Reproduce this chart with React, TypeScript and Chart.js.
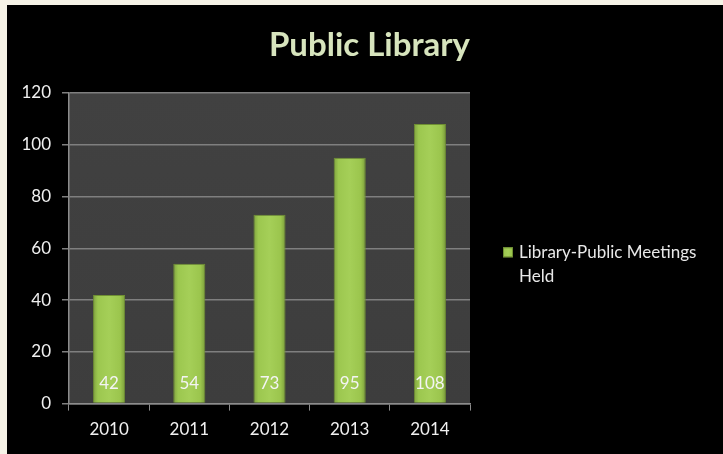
import React, { useEffect, useRef } from "react";
import { Chart, registerables } from "chart.js";

Chart.register(...registerables);

const TITLE = "Public Library";
const YEARS = ["2010", "2011", "2012", "2013", "2014"];
const MEETINGS = [42, 54, 73, 95, 108];
const SERIES_LABEL = "Library-Public Meetings Held";
const LEGEND_LINES = ["Library-Public Meetings", "Held"];
const Y_MIN = 0;
const Y_MAX = 120;
const Y_STEP = 20;

const FONT = "Lato, 'Open Sans', sans-serif";
const BAR_RATIO = 0.4;

function barGradient(ctx: CanvasRenderingContext2D, left: number, right: number) {
  if (!isFinite(left) || !isFinite(right) || right <= left) return "#9cc54f";
  const g = ctx.createLinearGradient(left, 0, right, 0);
  g.addColorStop(0, "#7fa33e");
  g.addColorStop(0.15, "#9cc74f");
  g.addColorStop(0.5, "#a5cf58");
  g.addColorStop(0.85, "#9bc54d");
  g.addColorStop(1, "#7a9c3a");
  return g;
}

const plotBgPlugin = {
  id: "plotBg",
  beforeDraw(chart: any) {
    const { ctx, chartArea } = chart;
    if (!chartArea) return;
    ctx.save();
    const g = ctx.createLinearGradient(0, chartArea.top, 0, chartArea.bottom);
    g.addColorStop(0, "#414141");
    g.addColorStop(1, "#3d3d3d");
    ctx.fillStyle = g;
    ctx.fillRect(chartArea.left, chartArea.top, chartArea.right - chartArea.left, chartArea.bottom - chartArea.top);
    ctx.restore();
  },
};

const titlePlugin = {
  id: "canvasTitle",
  afterDraw(chart: any) {
    const { ctx, width } = chart;
    ctx.save();
    ctx.font = `bold 33px ${FONT}`;
    ctx.fillStyle = "#d7e4bd";
    ctx.textAlign = "center";
    ctx.textBaseline = "alphabetic";
    ctx.fillText(TITLE, width / 2 + 4.5, 51);
    ctx.restore();
  },
};

const valueLabelPlugin = {
  id: "valueLabels",
  afterDatasetsDraw(chart: any) {
    const { ctx } = chart;
    const meta = chart.getDatasetMeta(0);
    const ys = chart.scales.y;
    const base = ys.getPixelForValue(0);
    ctx.save();
    ctx.font = `17px ${FONT}`;
    ctx.fillStyle = "#f4f4f4";
    ctx.textAlign = "center";
    ctx.textBaseline = "middle";
    meta.data.forEach((el: any, i: number) => {
      ctx.fillText(String(chart.data.datasets[0].data[i]), el.x, base - 20);
    });
    ctx.restore();
  },
};

const sideLegendPlugin = {
  id: "sideLegend",
  afterDraw(chart: any) {
    const { ctx, chartArea } = chart;
    const mid = (chartArea.top + chartArea.bottom) / 2;
    const mx = chartArea.right + 33;
    const my = mid + 4;
    ctx.save();
    ctx.fillStyle = barGradient(ctx, mx, mx + 10);
    ctx.fillRect(mx, my - 5, 10, 10);
    ctx.strokeStyle = "#6f8f33";
    ctx.lineWidth = 1;
    ctx.strokeRect(mx + 0.5, my - 4.5, 9, 9);
    ctx.font = `17px ${FONT}`;
    ctx.fillStyle = "#e8e8e8";
    ctx.textAlign = "left";
    ctx.textBaseline = "middle";
    LEGEND_LINES.forEach((line, i) => {
      ctx.fillText(line, chartArea.right + 49, my + i * 24);
    });
    ctx.restore();
  },
};

export default function App() {
  const ref = useRef<HTMLCanvasElement | null>(null);

  useEffect(() => {
    if (!ref.current) return;
    const chart = new Chart(ref.current, {
      type: "bar",
      data: {
        labels: YEARS,
        datasets: [
          {
            label: SERIES_LABEL,
            data: MEETINGS,
            backgroundColor: (c: any) => {
              const ch = c.chart;
              const xs = ch.scales && ch.scales.x;
              if (!xs || c.dataIndex === undefined) return "#9cc54f";
              const cx = xs.getPixelForValue(c.dataIndex);
              const half = ((xs.width / YEARS.length) * BAR_RATIO) / 2;
              return barGradient(ch.ctx, cx - half, cx + half);
            },
            borderColor: "#6f8f33",
            borderWidth: 1,
            categoryPercentage: 1,
            barPercentage: BAR_RATIO,
          },
        ],
      },
      options: {
        responsive: false,
        animation: false,
        layout: { padding: { left: 9, right: 253, bottom: 5, top: 88 } },
        plugins: {
          legend: { display: false },
          tooltip: { enabled: false },
          title: { display: false },
        },
        scales: {
          x: {
            grid: { drawOnChartArea: false, drawTicks: true, tickLength: 7, color: "#8c8c8c", lineWidth: 1 },
            border: { color: "#8c8c8c", width: 1.5 },
            ticks: { color: "#f0f0f0", font: { family: FONT, size: 17 }, padding: 9 },
          },
          y: {
            min: Y_MIN,
            max: Y_MAX,
            afterFit: (s: any) => {
              s.width = 53;
            },
            ticks: { stepSize: Y_STEP, color: "#f0f0f0", font: { family: FONT, size: 17 }, padding: 11 },
            grid: { color: "#7f7f7f", lineWidth: 1.5, tickLength: 7 },
            border: { color: "#8c8c8c", width: 1.5 },
          },
        },
      },
      plugins: [plotBgPlugin, valueLabelPlugin, sideLegendPlugin, titlePlugin],
    } as any);
    return () => chart.destroy();
  }, []);

  return (
    <div style={{ position: "absolute", left: 0, top: 0, width: 723, height: 454, background: "#f6f3e7", overflow: "hidden" }}>
      <div style={{ position: "absolute", left: 7, top: 5, width: 716, height: 449, background: "#000" }}>
        <canvas ref={ref} width={716} height={449} style={{ display: "block" }} />
      </div>
    </div>
  );
}
